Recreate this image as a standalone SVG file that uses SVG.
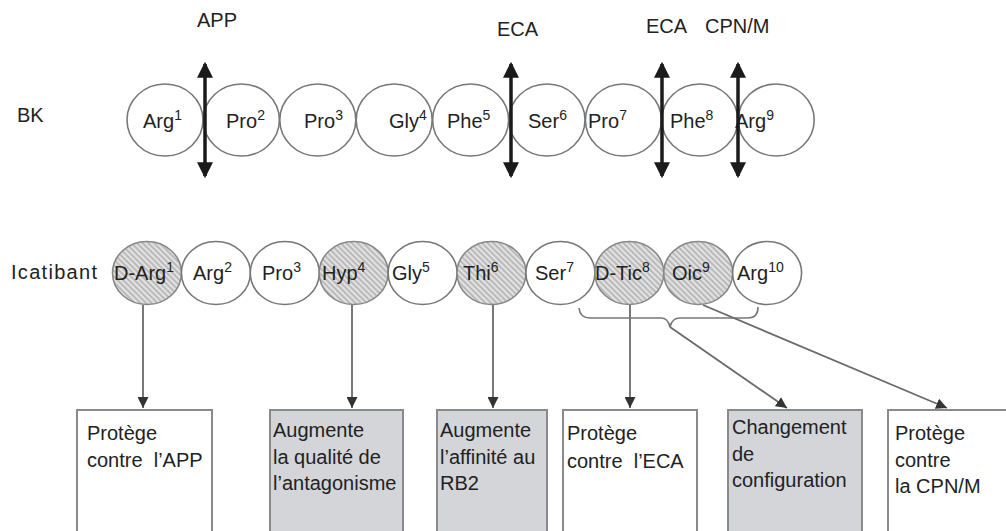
<svg xmlns="http://www.w3.org/2000/svg" width="1006" height="531" viewBox="0 0 1006 531">
<style>
text{font-family:"Liberation Sans",Arial,sans-serif;font-size:20px;fill:#222}
.sup{font-size:14px}
.c{fill:#fff;stroke:#777;stroke-width:1.6}
.h{fill:url(#hatch);stroke:#888;stroke-width:1.6}
.dbl{stroke:#1a1a1a;stroke-width:3.5;fill:none;marker-start:url(#big);marker-end:url(#big)}
.con{stroke:#6a6a6a;stroke-width:1.8;fill:none;marker-end:url(#sm)}
.box{fill:#fff;stroke:#8a8a8a;stroke-width:2}
.gbox{fill:#d3d5d9;stroke:#8a8a8a;stroke-width:2}
</style>
<defs>
<pattern id="hatch" width="4" height="4" patternUnits="userSpaceOnUse" patternTransform="rotate(-45)">
<rect width="4" height="4" fill="#e2e2e2"/>
<line x1="1" y1="0" x2="1" y2="4" stroke="#999" stroke-width="1.1"/>
</pattern>
<marker id="big" markerUnits="userSpaceOnUse" markerWidth="16" markerHeight="16" refX="12" refY="7" orient="auto-start-reverse" viewBox="0 0 14 14">
<path d="M0,0 L14,7 L0,14 Z" fill="#1a1a1a"/>
</marker>
<marker id="sm" markerUnits="userSpaceOnUse" markerWidth="11" markerHeight="11" refX="10" refY="5" orient="auto" viewBox="0 0 10 10">
<path d="M0,0 L10,5 L0,10 Z" fill="#333"/>
</marker>
</defs>
<rect width="1006" height="531" fill="#fff"/>

<g id="labels">
<text x="197" y="27">APP</text>
<text x="497" y="36">ECA</text>
<text x="646" y="33">ECA</text>
<text x="705" y="33">CPN/M</text>
<text x="17" y="122">BK</text>
<text x="11" y="279" textLength="86" lengthAdjust="spacing">Icatibant</text>
</g>

<g id="bk">
<g id="bk1"><ellipse class="c" cx="165" cy="120" rx="38" ry="36"/><text x="143" y="128">Arg<tspan class="sup" dy="-8">1</tspan></text></g>
<g id="bk2"><ellipse class="c" cx="241.4" cy="120" rx="38" ry="36"/><text x="226" y="128">Pro<tspan class="sup" dy="-8">2</tspan></text></g>
<g id="bk3"><ellipse class="c" cx="317.8" cy="120" rx="38" ry="36"/><text x="304" y="128">Pro<tspan class="sup" dy="-8">3</tspan></text></g>
<g id="bk4"><ellipse class="c" cx="394.2" cy="120" rx="38" ry="36"/><text x="389" y="128">Gly<tspan class="sup" dy="-8">4</tspan></text></g>
<g id="bk5"><ellipse class="c" cx="470.6" cy="120" rx="38" ry="36"/><text x="447" y="128">Phe<tspan class="sup" dy="-8">5</tspan></text></g>
<g id="bk6"><ellipse class="c" cx="547" cy="120" rx="38" ry="36"/><text x="528" y="128">Ser<tspan class="sup" dy="-8">6</tspan></text></g>
<g id="bk7"><ellipse class="c" cx="623.4" cy="120" rx="38" ry="36"/><text x="588" y="128">Pro<tspan class="sup" dy="-8">7</tspan></text></g>
<g id="bk8"><ellipse class="c" cx="699.8" cy="120" rx="38" ry="36"/><text x="670" y="128">Phe<tspan class="sup" dy="-8">8</tspan></text></g>
<g id="bk9"><ellipse class="c" cx="776.2" cy="120" rx="38" ry="36"/><text x="735" y="128">Arg<tspan class="sup" dy="-8">9</tspan></text></g>
</g>

<g id="cleavage">
<line class="dbl" x1="205" y1="64" x2="205" y2="176"/>
<line class="dbl" x1="511" y1="64" x2="511" y2="176"/>
<line class="dbl" x1="662" y1="64" x2="662" y2="176"/>
<line class="dbl" x1="738" y1="64" x2="738" y2="176"/>
</g>

<g id="icatibant">
<g id="i1"><ellipse class="h" cx="147" cy="273" rx="34.5" ry="31.5"/><text x="114" y="280">D-Arg<tspan class="sup" dy="-8">1</tspan></text></g>
<g id="i2"><ellipse class="c" cx="215.9" cy="273" rx="34.5" ry="31.5"/><text x="193" y="280">Arg<tspan class="sup" dy="-8">2</tspan></text></g>
<g id="i3"><ellipse class="c" cx="284.8" cy="273" rx="34.5" ry="31.5"/><text x="262" y="280">Pro<tspan class="sup" dy="-8">3</tspan></text></g>
<g id="i4"><ellipse class="h" cx="353.7" cy="273" rx="34.5" ry="31.5"/><text x="322" y="280">Hyp<tspan class="sup" dy="-8">4</tspan></text></g>
<g id="i5"><ellipse class="c" cx="422.6" cy="273" rx="34.5" ry="31.5"/><text x="392" y="280">Gly<tspan class="sup" dy="-8">5</tspan></text></g>
<g id="i6"><ellipse class="h" cx="491.5" cy="273" rx="34.5" ry="31.5"/><text x="463" y="280">Thi<tspan class="sup" dy="-8">6</tspan></text></g>
<g id="i7"><ellipse class="c" cx="560.4" cy="273" rx="34.5" ry="31.5"/><text x="535" y="280">Ser<tspan class="sup" dy="-8">7</tspan></text></g>
<g id="i8"><ellipse class="h" cx="629.3" cy="273" rx="34.5" ry="31.5"/><text x="595" y="280">D-Tic<tspan class="sup" dy="-8">8</tspan></text></g>
<g id="i9"><ellipse class="h" cx="698.2" cy="273" rx="34.5" ry="31.5"/><text x="672" y="280">Oic<tspan class="sup" dy="-8">9</tspan></text></g>
<g id="i10"><ellipse class="c" cx="767.1" cy="273" rx="34.5" ry="31.5"/><text x="737" y="280">Arg<tspan class="sup" dy="-8">10</tspan></text></g>
</g>

<g id="connectors">
<line class="con" x1="143" y1="305" x2="143" y2="408"/>
<line class="con" x1="352" y1="305" x2="352" y2="408"/>
<line class="con" x1="493" y1="305" x2="493" y2="408"/>
<line class="con" x1="630" y1="305" x2="630" y2="408"/>
<path d="M579,308 Q580,318 590,318 L661,318 Q668,318 670,327 Q672,318 680,318 L748,318 Q758,318 758,307" fill="none" stroke="#777" stroke-width="1.6"/>
<line class="con" x1="670" y1="327" x2="787" y2="408"/>
<line class="con" x1="703" y1="305" x2="947" y2="408"/>
</g>

<g id="box1"><rect class="box" x="77" y="410" width="135" height="130"/>
<text x="87" y="440">Protège</text><text x="87" y="467" xml:space="preserve">contre  l’APP</text></g>
<g id="box2"><rect class="gbox" x="270" y="410" width="133" height="130"/>
<text x="273" y="437">Augmente</text><text x="273" y="464">la qualité de</text><text x="273" y="490">l’antagonisme</text></g>
<g id="box3"><rect class="gbox" x="437" y="410" width="110" height="130"/>
<text x="440" y="437">Augmente</text><text x="440" y="464">l’affinité au</text><text x="440" y="490">RB2</text></g>
<g id="box4"><rect class="box" x="563" y="410" width="134" height="130"/>
<text x="567" y="440">Protège</text><text x="567" y="468" xml:space="preserve">contre  l’ECA</text></g>
<g id="box5"><rect class="gbox" x="728" y="410" width="134" height="130"/>
<text x="732" y="434">Changement</text><text x="732" y="461">de</text><text x="732" y="487">configuration</text></g>
<g id="box6"><rect class="box" x="888" y="410" width="130" height="130"/>
<text x="895" y="440">Protège</text><text x="895" y="467">contre</text><text x="895" y="493">la CPN/M</text></g>
</svg>
